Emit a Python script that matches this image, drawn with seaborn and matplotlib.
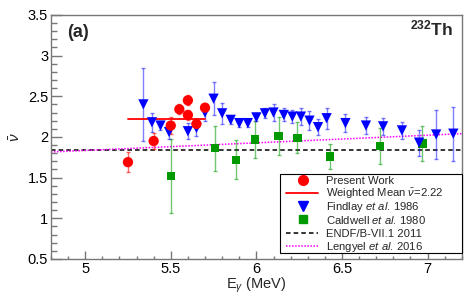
import matplotlib
matplotlib.use("Agg")
import numpy as np
import pandas as pd
import seaborn as sns
import matplotlib.pyplot as plt
from matplotlib.patches import Rectangle
from matplotlib.ticker import MultipleLocator

# Present Work
pw_e = [5.25, 5.40, 5.50, 5.55, 5.60, 5.60, 5.65, 5.70]
pw_nu = [1.69, 1.95, 2.14, 2.34, 2.45, 2.27, 2.16, 2.36]
pw_err = [0.12, 0.10, 0.10, 0.06, 0.06, 0.06, 0.05, 0.04]

# weighted mean of present work
wm_e = [5.25, 5.70]
wm_nu = [2.22, 2.22]

# Findlay et al. 1986
fi_e = [5.34, 5.39, 5.44, 5.49, 5.60, 5.65, 5.70, 5.75, 5.80, 5.85, 5.90, 5.95, 6.00, 6.05,
        6.10, 6.16, 6.21, 6.26, 6.31, 6.36, 6.41, 6.52, 6.64, 6.74, 6.85, 6.95, 7.05, 7.15]
fi_nu = [2.40, 2.18, 2.14, 2.06, 2.07, 2.11, 2.30, 2.47, 2.29, 2.21, 2.17, 2.17, 2.24, 2.29,
         2.30, 2.27, 2.25, 2.25, 2.20, 2.12, 2.23, 2.17, 2.14, 2.13, 2.08, 1.93, 2.03, 2.04]
fi_err = [0.45, 0.12, 0.05, 0.08, 0.10, 0.10, 0.10, 0.20, 0.13, 0.05, 0.05, 0.05, 0.05, 0.06,
          0.10, 0.08, 0.08, 0.10, 0.12, 0.10, 0.13, 0.11, 0.10, 0.10, 0.10, 0.16, 0.30, 0.33]

# Caldwell et al. 1980
ca_e = [5.50, 5.76, 5.88, 5.99, 6.13, 6.24, 6.43, 6.72, 6.97]
ca_nu = [1.52, 1.86, 1.72, 1.97, 2.01, 1.99, 1.76, 1.89, 1.92]
ca_err = [0.45, 0.28, 0.24, 0.23, 0.23, 0.19, 0.15, 0.22, 0.21]

# ENDF/B-VII.1 and Lengyel et al. 2016 curves
endf_e = [4.8, 7.2]
endf_nu = [1.845, 1.845]
len_e = [4.8, 7.2]
len_nu = [1.815, 2.04]

legend_labels = [
    "Present Work",
    r"Weighted Mean $\bar{\nu}$=2.22",
    r"Findlay $\it{et\ al.}\,$1986",
    r"Caldwell $\it{et\ al.}\,$1980",
    "ENDF/B-VII.1 2011",
    r"Lengyel $\it{et\ al.}\,$2016",
]

RED = "#ff0000"
BLUE = "#0000ff"
GREEN = "#009900"
MAGENTA = "#ff00ff"
DASH = (0, (3, 2))
DOT = (0, (1, 1))

sns.set_theme(style="ticks")
plt.rcParams["font.family"] = ["Liberation Sans", "DejaVu Sans"]
plt.rcParams["mathtext.fontset"] = "custom"
plt.rcParams["mathtext.rm"] = "Liberation Sans"
plt.rcParams["mathtext.it"] = "Liberation Sans:italic"
plt.rcParams["mathtext.bf"] = "Liberation Sans:bold"

fig = plt.figure(figsize=(4.67, 2.99), dpi=100)
ax = fig.add_axes([0.109, 0.134, 0.880, 0.816])

sns.lineplot(x=endf_e, y=endf_nu, ax=ax, color="black", lw=1.1, linestyle=DASH)
sns.lineplot(x=len_e, y=len_nu, ax=ax, color=MAGENTA, lw=1.1, linestyle=DOT)

ax.errorbar(ca_e, ca_nu, yerr=ca_err, fmt="none", ecolor=GREEN, elinewidth=1, alpha=0.55, capsize=1.2)
ax.errorbar(fi_e, fi_nu, yerr=fi_err, fmt="none", ecolor=BLUE, elinewidth=1, alpha=0.5, capsize=1.5)
ax.errorbar(pw_e, pw_nu, yerr=pw_err, fmt="none", ecolor=RED, elinewidth=1, alpha=0.6, capsize=1.2)

sns.lineplot(x=wm_e, y=wm_nu, ax=ax, color=RED, lw=1.3)

sns.scatterplot(x=ca_e, y=ca_nu, ax=ax, marker="s", s=36, color=GREEN, edgecolor="none", zorder=4)
sns.scatterplot(x=fi_e, y=fi_nu, ax=ax, marker="v", s=55, color=BLUE, edgecolor="none", zorder=4)
sns.scatterplot(x=pw_e, y=pw_nu, ax=ax, marker="o", s=55, color=RED, edgecolor="none", zorder=5)

ax.set_xlim(4.8, 7.2)
ax.set_ylim(0.5, 3.5)
ax.set_xticks([5, 5.5, 6, 6.5, 7])
ax.set_xticklabels(["5", "5.5", "6", "6.5", "7"])
ax.set_yticks([0.5, 1, 1.5, 2, 2.5, 3, 3.5])
ax.set_yticklabels(["0.5", "1", "1.5", "2", "2.5", "3", "3.5"])
ax.xaxis.set_minor_locator(MultipleLocator(0.1))
ax.yaxis.set_minor_locator(MultipleLocator(0.1))

for s in ax.spines.values():
    s.set_color("#777777")
    s.set_linewidth(1.0)
ax.tick_params(axis="both", which="both", direction="in", colors="#777777", labelcolor="black", labelsize=10.5)
ax.tick_params(axis="y", which="major", length=8, width=1, pad=2)
ax.tick_params(axis="y", which="minor", length=4, width=1)
ax.tick_params(axis="x", which="major", length=5.5, width=1, pad=2.5)
ax.tick_params(axis="x", which="minor", length=2.5, width=1)

ax.set_xlabel(r"E$_{\gamma}$ (MeV)", fontsize=10.5)
ax.xaxis.set_label_coords(0.5, -0.067)
ax.set_ylabel(r"$\bar{\nu}$", fontsize=11)
ax.yaxis.set_label_coords(-0.068, 0.5)

ax.text(0.040, 0.962, "(a)", transform=ax.transAxes, fontsize=13, fontweight="bold", va="top", ha="left")
ax.text(0.978, 0.985, r"$^{\mathbf{232}}$Th", transform=ax.transAxes, fontsize=12.5, fontweight="bold", va="top", ha="right")

# legend box drawn by hand so the rows stay evenly spaced
ax.add_patch(Rectangle((0.557, 0.026), 0.443, 0.322, transform=ax.transAxes, facecolor="white",
                       edgecolor="black", lw=0.8, zorder=6, clip_on=False))
row_y = [0.325 - 0.0543 * i for i in range(6)]
mx, lx0, lx1, tx = 0.613, 0.573, 0.650, 0.669
kw = dict(transform=ax.transAxes, clip_on=False, zorder=7)
ax.plot([mx], [row_y[0]], marker="o", color=RED, markersize=7, linestyle="none", **kw)
ax.plot([lx0, lx1], [row_y[1]] * 2, color=RED, lw=1.3, **kw)
ax.plot([mx], [row_y[2]], marker="v", color=BLUE, markersize=7, linestyle="none", **kw)
ax.plot([mx], [row_y[3]], marker="s", color=GREEN, markersize=6, linestyle="none", **kw)
ax.plot([lx0, lx1], [row_y[4]] * 2, color="black", lw=1.1, linestyle=DASH, **kw)
ax.plot([lx0, lx1], [row_y[5]] * 2, color=MAGENTA, lw=1.1, linestyle=DOT, **kw)
for y, lab in zip(row_y, legend_labels):
    ax.text(tx, y - 0.017, lab, fontsize=8.1, va="baseline", ha="left", transform=ax.transAxes, zorder=7)

fig.savefig("out.png", dpi=100)
